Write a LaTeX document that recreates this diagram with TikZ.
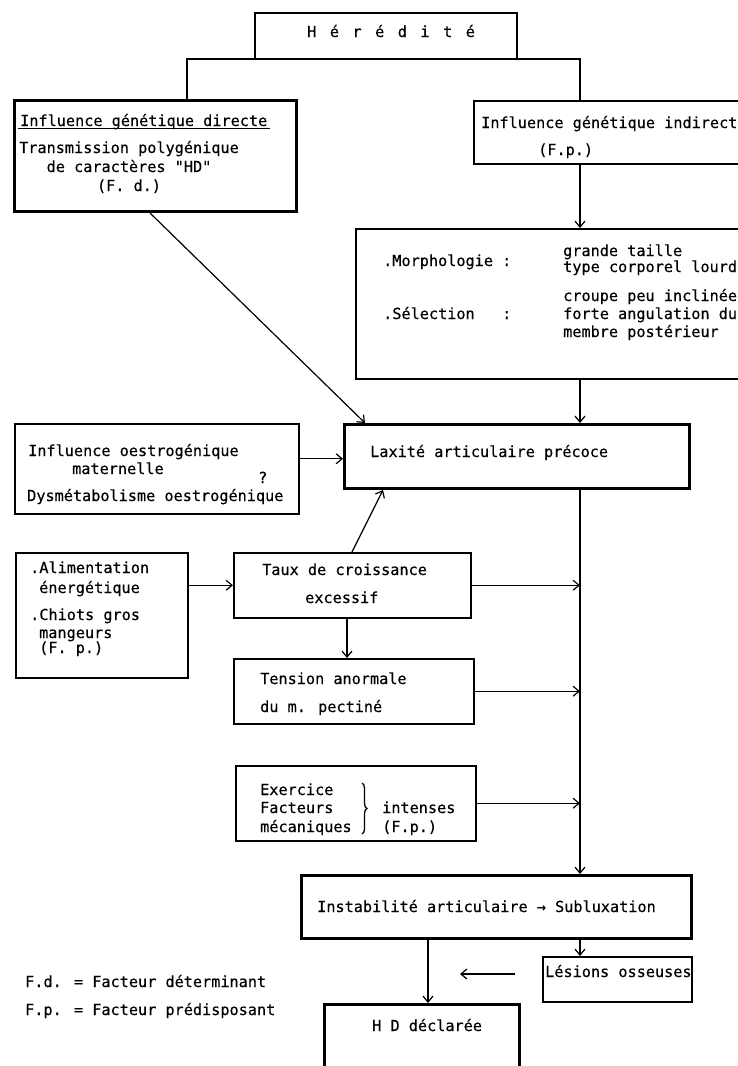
\documentclass[tikz,border=0pt]{standalone}
\usepackage{fontspec}
\setmainfont[FakeBold=0.4]{DejaVu Sans Mono}
\usetikzlibrary{arrows.meta,decorations.pathreplacing}
\newcommand{\esp}{\hspace{13.5pt}}

\begin{document}
\begin{tikzpicture}[
x=1pt, y=1pt,
box/.style={draw, line width=1.5pt, inner sep=0pt, anchor=north west},
bigbox/.style={box, line width=3pt},
txt/.style={inner sep=0pt, anchor=base west, font=\fontsize{15.2}{19}\selectfont},
arr/.style={-{Straight Barb[length=6pt,width=10pt]}, line width=1.2pt}
]
\useasboundingbox (0,0) rectangle (738,-1066);

% --- Hérédité ---
\node[box, minimum width=262pt, minimum height=46pt] (hered) at (254,-12) {};
\node[txt] (heredT) at (307,-37) {H\esp é\esp r\esp é\esp d\esp i\esp t\esp é};

\coordinate (spine) at (580,0);
\coordinate (jl) at (187,-59);
\coordinate (jr) at (580,-59);

% --- Influence génétique directe ---
\node[bigbox, minimum width=282pt, minimum height=111pt] (dir) at (13,-99) {};
\node[txt] (dirT) at (20,-126) {Influence génétique directe};
\draw[line width=1pt] ([shift={(-2pt,-2.5pt)}]dirT.base west) -- ([shift={(3pt,-2.5pt)}]dirT.base east);
\node[txt, anchor=base] (dirA) at (129,-153) {Transmission polygénique};
\node[txt, anchor=base] (dirB) at (129,-172) {de caractères \textquotedbl HD\textquotedbl};
\node[txt, anchor=base] (dirC) at (129,-191) {(F. d.)};

% --- Influence génétique indirecte ---
\node[box, minimum width=290pt, minimum height=63pt] (indir) at (473,-100) {};
\node[txt] (indirA) at (481,-128) {Influence génétique indirecte};
\node[txt] (indirB) at (538,-155) {(F.p.)};

\draw[line width=1.5pt] (jl |- dir.north) -- (jl) -- (jr) -- (jr |- indir.north);

% --- Morphologie / Sélection ---
\node[box, minimum width=410pt, minimum height=150pt] (morpho) at (355,-228) {};
\node[txt] (morA) at (383,-266) {.Morphologie :};
\node[txt] (morB) at (563,-256) {grande taille};
\node[txt] (morC) at (563,-272) {type corporel lourd};
\node[txt] (selA) at (383,-319) {.Sélection\ \ \ :};
\node[txt] (selB) at (563,-301) {croupe peu inclinée};
\node[txt] (selC) at (563,-319) {forte angulation du};
\node[txt] (selD) at (563,-337) {membre postérieur};

% --- Laxité ---
\node[bigbox, minimum width=345pt, minimum height=64pt] (lax) at (343,-423) {};
\node[txt] (laxT) at (370,-457) {Laxité articulaire précoce};

% --- Influence oestrogénique ---
\node[box, minimum width=284pt, minimum height=90pt] (oes) at (14,-423) {};
\node[txt] (oesA) at (28,-456) {Influence oestrogénique};
\node[txt] (oesB) at (72,-474) {maternelle};
\node[txt] (oesQ) at (258,-483) {?};
\node[txt] (oesC) at (27,-501) {Dysmétabolisme oestrogénique};

% --- Alimentation ---
\node[box, minimum width=172pt, minimum height=125pt] (alim) at (15,-552) {};
\node[txt] (alimA) at (30,-573) {.Alimentation};
\node[txt] (alimB) at (39,-593) {énergétique};
\node[txt] (alimC) at (30,-620) {.Chiots gros};
\node[txt] (alimD) at (39,-638) {mangeurs};
\node[txt] (alimE) at (39,-653) {(F. p.)};

% --- Taux de croissance ---
\node[box, minimum width=237pt, minimum height=65pt] (taux) at (233,-552) {};
\node[txt] (tauxA) at (262,-575) {Taux de croissance};
\node[txt] (tauxB) at (305,-603) {excessif};

% --- Tension ---
\node[box, minimum width=240pt, minimum height=65pt] (tens) at (233,-658) {};
\node[txt] (tensA) at (260,-684) {Tension anormale};
\node[txt] (tensB) at (260,-712) {du m. pectiné};

% --- Exercice ---
\node[box, minimum width=240pt, minimum height=75pt] (exer) at (235,-765) {};
\node[txt] (exerA) at (260,-795) {Exercice};
\node[txt] (exerB) at (260,-813) {Facteurs};
\node[txt] (exerC) at (260,-832) {mécaniques};
\coordinate (braceT) at (362,-783);
\coordinate (braceB) at (362,-834);
\draw[line width=1.3pt, decorate, decoration={brace, amplitude=5pt}] (braceT) -- (braceB);
\node[txt] (exerD) at (382,-813) {intenses};
\node[txt] (exerE) at (382,-832) {(F.p.)};

% --- Instabilité, lésions, H D ---
\node[bigbox, minimum width=390pt, minimum height=63pt] (instab) at (300,-874) {};
\node[txt] (instabT) at (317,-912) {Instabilité articulaire → Subluxation};
\node[box, minimum width=149pt, minimum height=45pt] (les) at (542,-956) {};
\node[txt] (lesT) at (545,-977) {Lésions osseuses};
\node[bigbox, minimum width=195pt, minimum height=80pt] (hd) at (323,-1003) {};
\node[txt] (hdT) at (372,-1031) {H D déclarée};

% légende
\node[txt] (legA) at (25,-987) {F.d. = Facteur déterminant};
\node[txt] (legB) at (25,-1015) {F.p. = Facteur prédisposant};

% --- Flèches ---
\draw[arr] (indir.south -| spine) -- (morpho.north -| spine);
\draw[arr] (morpho.south -| spine) -- (lax.north -| spine);
\draw[arr] ([xshift=137pt]dir.south west) -- ([xshift=22pt]lax.north west);
\draw[arr] ([yshift=10pt]oes.east) -- ([yshift=10pt]oes.east -| lax.west);
\draw[arr] (alim.east |- taux.west) -- (taux.west);
\draw[arr] ([xshift=119pt]taux.north west) -- ([xshift=40pt]lax.south west);
\draw[arr] (taux.east) -- (taux.east -| spine);
\draw[arr] ([xshift=114pt]taux.south west) -- ([xshift=114pt]tens.north west);
\draw[arr] (tens.east) -- (tens.east -| spine);
\draw[arr] (exer.east) -- (exer.east -| spine);
\draw[arr] (lax.south -| spine) -- (instab.north -| spine);
\draw[arr] (instab.south -| spine) -- (les.north -| spine);
\draw[arr] ([xshift=128pt]instab.south west) -- ([xshift=105pt]hd.north west);

\coordinate (lesA) at (515,-974);
\coordinate (lesB) at (460,-974);
\draw[arr] (lesA) -- (lesB);

\end{tikzpicture}
\end{document}
